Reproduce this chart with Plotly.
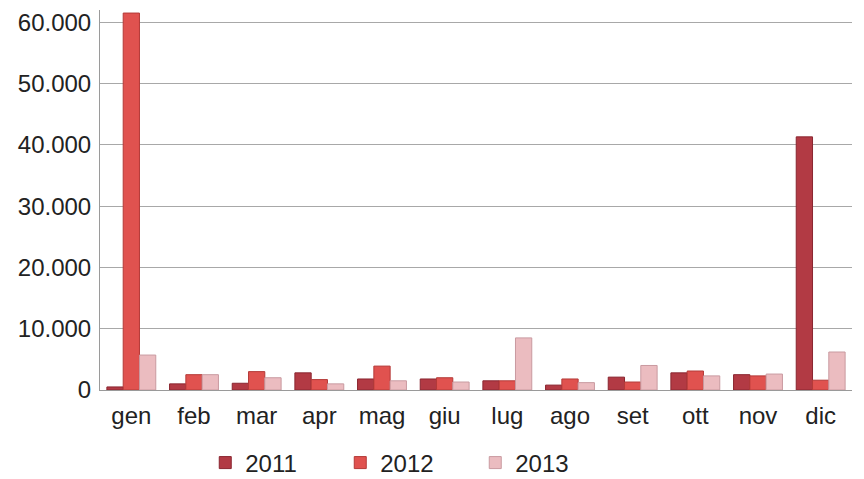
import plotly.graph_objects as go

months = ["gen", "feb", "mar", "apr", "mag", "giu", "lug", "ago", "set", "ott", "nov", "dic"]
series_names = ["2011", "2012", "2013"]
v2011 = [500, 1000, 1100, 2800, 1800, 1800, 1500, 800, 2100, 2800, 2500, 41300]
v2012 = [61500, 2500, 3000, 1700, 3900, 2000, 1500, 1800, 1300, 3100, 2300, 1600]
v2013 = [5700, 2500, 2000, 1000, 1500, 1300, 8500, 1200, 4000, 2300, 2600, 6200]
y_ticks = [0, 10000, 20000, 30000, 40000, 50000, 60000]

colors = ["#b23a44", "#e0524f", "#ebbcc0"]
lines = ["#8a2630", "#b43a38", "#c99aa0"]

fig = go.Figure()
for name, vals, c, lc in zip(series_names, [v2011, v2012, v2013], colors, lines):
    fig.add_trace(go.Bar(
        x=months, y=vals, name=name,
        marker=dict(color=c, line=dict(color=lc, width=1)),
    ))

# page body has an 8px default margin, so the figure is sized to fit the window
fig.update_layout(
    width=856, height=471,
    barmode="group", bargap=0.22, bargroupgap=0.0,
    separators=",.",
    paper_bgcolor="white", plot_bgcolor="white",
    margin=dict(l=92, r=12, t=2, b=89),
    font=dict(family="Liberation Sans, Arial, sans-serif", size=24, color="#222222"),
    showlegend=True,
    legend=dict(
        orientation="h", xref="container", x=0.467, xanchor="center",
        yref="container", y=0.034, yanchor="middle",
        entrywidth=90, entrywidthmode="pixels",
        font=dict(size=24), itemwidth=30,
    ),
)
fig.update_xaxes(
    showline=True, linecolor="#9a9a9a", linewidth=1,
    tickfont=dict(size=24), ticks="", ticklabelstandoff=4,
)
fig.update_yaxes(
    range=[0, 62000], tickvals=y_ticks, tickformat=",d",
    showgrid=True, gridcolor="#a8a8a8", gridwidth=1,
    showline=True, linecolor="#9a9a9a", linewidth=1,
    zeroline=False, tickfont=dict(size=24), ticks="", ticklabelstandoff=3,
)

fig.write_html("out.html")
